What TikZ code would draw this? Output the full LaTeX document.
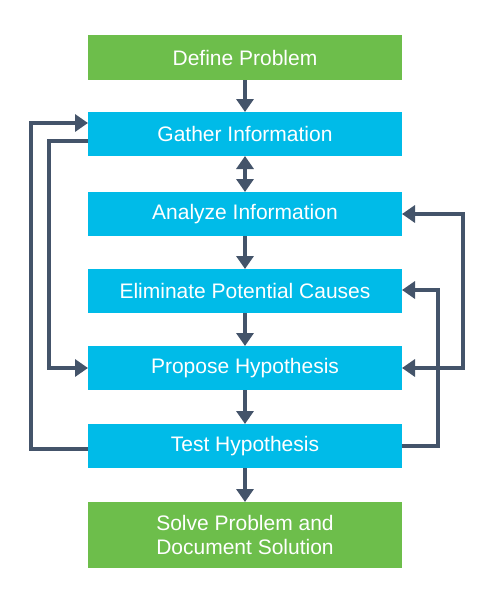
\documentclass[tikz,border=0pt]{standalone}
\usepackage{fontspec}
\setmainfont{Liberation Sans}
\usetikzlibrary{arrows.meta}
\definecolor{boxgreen}{HTML}{6DBE4B}
\definecolor{boxblue}{HTML}{00BBE8}
\definecolor{arrowc}{HTML}{44546A}
\tikzset{
  box/.style={minimum width=314pt, minimum height=44pt, inner sep=0pt, outer sep=0pt,
    text=white, font=\fontsize{21}{24.5}\selectfont, align=center},
  gbox/.style={box, fill=boxgreen},
  bbox/.style={box, fill=boxblue},
  conn/.style={draw=arrowc, line width=4.5pt, line join=miter,
    -{Triangle[length=13pt,width=17pt]}},
  dconn/.style={conn, {Triangle[length=13pt,width=17pt]}-{Triangle[length=13pt,width=17pt]}}
}
\begin{document}
\begin{tikzpicture}[x=1pt,y=-1pt]
\useasboundingbox (0,0) rectangle (491,590);
\node[gbox, minimum height=45pt] (def) at (245,57.5) {Define Problem};
\node[bbox] (gather) at (245,134) {Gather Information};
\node[bbox] (analyze) at (245,214) {Analyze Information};
\node[bbox] (elim) at (245,291) {Eliminate Potential Causes};
\node[bbox] (propose) at (245,368) {Propose Hypothesis};
\node[bbox] (test) at (245,446) {Test Hypothesis};
\node[gbox, minimum height=66pt] (solve) at (245,535) {Solve Problem and\\Document Solution};

\draw[conn] (def) -- (gather);
\draw[dconn] (gather) -- (analyze);
\draw[conn] (elim) -- (propose);
\draw[conn] (propose) -- (test);
\draw[conn] (test) -- (solve);
\draw[conn] (analyze) -- (elim);

\draw[conn] ([yshift=-3pt]test.west) -- ++(-57,0) |- ([yshift=11pt]gather.west);
\draw[conn] ([yshift=-7pt]gather.west) -- ++(-39,0) |- (propose.west);
\draw[dconn] (analyze.east) -- ++(61,0) |- (propose.east);
\draw[conn] (test.east) -- ++(36,0) |- ([yshift=1pt]elim.east);
\end{tikzpicture}
\end{document}
